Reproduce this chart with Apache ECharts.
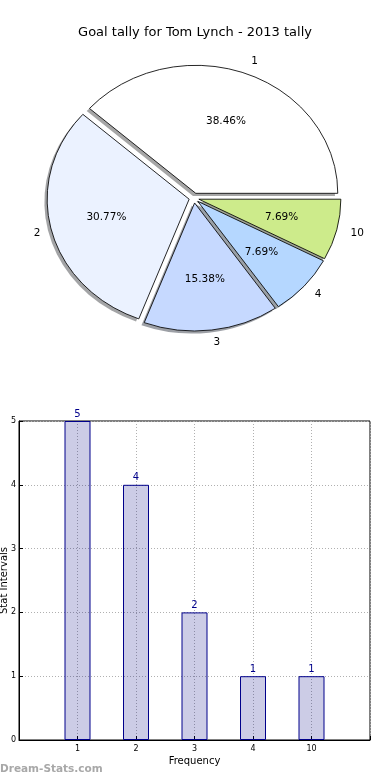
<!DOCTYPE html>
<html><head><meta charset="utf-8">
<script src="https://cdn.jsdelivr.net/npm/echarts@6/dist/echarts.min.js"></script>
<style>html,body{margin:0;padding:0;background:#fff}#c{width:390px;height:780px}</style>
</head><body><div id="c"></div>
<script>
const title = 'Goal tally for Tom Lynch - 2013 tally';
const categories = ['1', '2', '3', '4', '10'];
const goals = [5, 4, 2, 1, 1];
const yTicks = [0, 1, 2, 3, 4, 5];
const sliceColors = ['#ffffff', '#ebf2ff', '#c6d9ff', '#b5d7ff', '#cdeb8b'];

const FONT = 'DejaVu Sans';
const total = goals.reduce((a, b) => a + b, 0);
const cumStart = [];
goals.reduce((acc, v, i) => { cumStart[i] = acc; return acc + v; }, 0);

// pie geometry (ellipse as in reference)
const CX = 194, CY = 198, RX = 142, RY = 128, EXPLODE = 5;

function darken(hex) {
  const n = parseInt(hex.slice(1), 16);
  const r = Math.round(((n >> 16) & 255) * 0.3), g = Math.round(((n >> 8) & 255) * 0.3), b = Math.round((n & 255) * 0.3);
  return 'rgba(' + r + ',' + g + ',' + b + ',0.5)';
}

function renderPie(params, api) {
  const i = params.dataIndex;
  const v = api.value(0);
  const a1 = cumStart[i] / total * 360;
  const a2 = (cumStart[i] + v) / total * 360;
  const mid = (a1 + a2) / 2 * Math.PI / 180;
  const c = Math.cos(mid), s = Math.sin(mid);
  const ox = EXPLODE * c, oy = -EXPLODE * s;
  const sa = -a2 * Math.PI / 180, ea = -a1 * Math.PI / 180;
  const sc = RX / RY;
  const pct = (v / total * 100).toFixed(2) + '%';
  return {
    type: 'group',
    children: [
      {
        type: 'group', x: ox, y: oy, originX: CX, originY: CY, scaleX: sc, scaleY: 1,
        children: [
          { type: 'sector', z2: 0, shape: { cx: CX - 2.5, cy: CY + 2.6, r: RY, r0: 0, startAngle: sa, endAngle: ea, clockwise: true },
            style: { fill: darken(sliceColors[i]), stroke: null } },
          { type: 'sector', z2: 10, shape: { cx: CX, cy: CY, r: RY, r0: 0, startAngle: sa, endAngle: ea, clockwise: true },
            style: { fill: sliceColors[i], stroke: '#000', lineWidth: 0.8 } }
        ]
      },
      { type: 'text', z2: 20, x: CX + ox + 0.6 * RX * c, y: CY + oy - 0.6 * RY * s,
        style: { text: pct, fill: '#000', font: '10.5px "' + FONT + '"', align: 'center', verticalAlign: 'middle' } },
      { type: 'text', z2: 20, x: CX + ox + 1.1 * RX * c + (c >= 0 ? 0 : 3), y: CY + oy - 1.1 * RY * s,
        style: { text: categories[i], fill: '#000', font: '10.5px "' + FONT + '"', align: c >= 0 ? 'left' : 'right', verticalAlign: 'middle' } }
    ]
  };
}

const chart = echarts.init(document.getElementById('c'), null, { renderer: 'canvas' });
chart.setOption({
  animation: false,
  backgroundColor: '#fff',
  textStyle: { fontFamily: FONT },
  title: { text: title, left: 'center', top: 21, textStyle: { fontSize: 13, fontWeight: 'normal', color: '#000', fontFamily: FONT } },
  grid: { left: 19, right: 20, top: 421, bottom: 40, containLabel: false, outerBoundsMode: 'none',
    show: true, borderColor: '#000', borderWidth: 1, backgroundColor: 'transparent' },
  xAxis: {
    type: 'value', min: 0, max: categories.length + 1, interval: 1,
    name: 'Frequency', nameLocation: 'middle', nameGap: 16, nameMoveOverlap: false,
    nameTextStyle: { fontSize: 10, color: '#000', fontFamily: FONT },
    axisLine: { show: true, lineStyle: { color: '#000' } },
    axisTick: { show: true, inside: true, length: 4, lineStyle: { color: '#000' } },
    axisLabel: { fontSize: 8, color: '#000', margin: 5, fontFamily: FONT,
      formatter: v => categories[v - 1] !== undefined ? categories[v - 1] : '' },
    splitLine: { show: true, lineStyle: { color: '#b0b0b0', type: [1, 2], width: 1 } }
  },
  yAxis: {
    type: 'value', min: yTicks[0], max: yTicks[yTicks.length - 1], interval: 1,
    name: 'Stat Intervals', nameLocation: 'middle', nameGap: 10, nameMoveOverlap: false,
    nameTextStyle: { fontSize: 10, color: '#000', fontFamily: FONT },
    axisLine: { show: true, lineStyle: { color: '#000' } },
    axisTick: { show: true, inside: true, length: 4, lineStyle: { color: '#000' } },
    axisLabel: { fontSize: 8, color: '#000', margin: 3, fontFamily: FONT },
    splitLine: { show: true, lineStyle: { color: '#b0b0b0', type: [1, 2], width: 1 } }
  },
  graphic: [
    { type: 'text', left: 0, top: 764, style: { text: 'Dream-Stats.com', fill: '#a8a8a8', font: 'bold 10.5px "' + FONT + '"' } }
  ],
  series: [
    { type: 'custom', coordinateSystem: 'none', renderItem: renderPie, data: goals.map(v => [v]) },
    {
      type: 'bar', data: goals.map((v, i) => [i + 1, v]), barWidth: 26,
      itemStyle: { color: 'rgba(0,0,128,0.2)', borderColor: '#00008b', borderWidth: 1 },
      label: { show: true, position: 'top', distance: 2, color: '#00008b', fontSize: 10, fontFamily: FONT,
        formatter: p => String(p.value[1]) }
    }
  ]
});
</script></body></html>
